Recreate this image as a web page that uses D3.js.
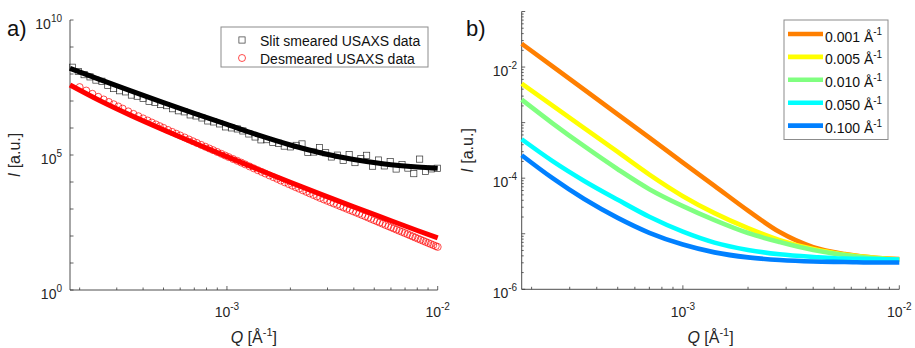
<!DOCTYPE html>
<html><head><meta charset="utf-8">
<script src="https://cdn.jsdelivr.net/npm/d3@7"></script>
<style>
html,body{margin:0;padding:0;background:#fff;}
svg{display:block;font-family:"Liberation Sans",Arial,Helvetica,sans-serif;}
</style></head><body>
<svg id="chart" width="915" height="348"></svg>
<script>
// ---------- data ----------
// Q grid (1/Å) on which the model curves are tabulated
const fitQ = [1.8e-4, 2.5e-4, 3.5e-4, 5e-4, 7e-4, 1e-3, 1.4e-3, 2e-3, 2.8e-3, 4e-3, 5.6e-3, 8e-3, 1e-2];

// panel a) fitted curves
const smearedFit   = [1.63e8, 6.21e7, 2.37e7, 8.73e6, 3.48e6, 1.35e6, 5.51e5, 2.34e5, 1.19e5, 6.81e4, 4.65e4, 3.60e4, 3.21e4];
const desmearedFit = [3.92e7, 1.02e7, 2.93e6, 8.55e5, 2.79e5, 8.69e4, 2.96e4, 9.73e3, 3.49e3, 1.20e3, 450, 160, 85];

// panel a) slit-smeared USAXS data
const smearedQ = [1.85e-4, 1.97e-4, 2.1e-4, 2.24e-4, 2.39e-4, 2.55e-4, 2.72e-4, 2.9e-4, 3.09e-4, 3.3e-4,
  3.52e-4, 3.75e-4, 4.0e-4, 4.27e-4, 4.55e-4, 4.85e-4, 5.17e-4, 5.52e-4, 5.88e-4, 6.27e-4,
  6.69e-4, 7.13e-4, 7.61e-4, 8.11e-4, 8.65e-4, 9.23e-4, 9.84e-4, 1.05e-3, 1.12e-3, 1.19e-3,
  1.27e-3, 1.36e-3, 1.45e-3, 1.54e-3, 1.65e-3, 1.76e-3, 1.87e-3, 2.0e-3, 2.13e-3, 2.27e-3,
  2.42e-3, 2.58e-3, 2.75e-3, 2.94e-3, 3.13e-3, 3.34e-3, 3.56e-3, 3.8e-3, 4.05e-3, 4.32e-3,
  4.6e-3, 4.91e-3, 5.24e-3, 5.58e-3, 5.95e-3, 6.35e-3, 6.77e-3, 7.22e-3, 7.7e-3, 8.21e-3,
  8.75e-3, 9.33e-3, 9.95e-3];
const smearedI = [1.78e8, 1.24e8, 9.45e7, 7.83e7, 5.96e7, 5.39e7, 3.78e7, 2.89e7, 2.40e7, 2.18e7,
  1.66e7, 1.51e7, 1.26e7, 9.70e6, 8.83e6, 7.38e6, 6.73e6, 5.18e6, 4.35e6, 3.97e6,
  3.06e6, 2.80e6, 2.36e6, 1.83e6, 1.68e6, 1.42e6, 1.10e6, 1.01e6, 9.24e5, 7.79e5,
  6.03e5, 4.66e5, 3.64e5, 3.70e5, 2.91e5, 2.72e5, 2.14e5, 2.00e5, 2.27e5, 2.57e5,
  1.24e5, 1.29e5, 1.89e5, 1.21e5, 8.46e4, 9.88e4, 6.36e4, 1.04e5, 5.23e4, 7.44e4,
  9.72e4, 3.86e4, 6.51e4, 3.95e4, 5.76e4, 3.03e4, 4.43e4, 3.28e4, 2.04e4, 7.04e4,
  2.45e4, 3.06e4, 3.23e4];

// panel a) desmeared USAXS data
const desmearedQ = [2.0e-4, 2.15e-4, 2.3e-4, 2.45e-4, 2.6e-4, 2.75e-4, 2.9e-4, 3.05e-4, 3.2e-4,
  3.4e-4, 3.6e-4, 3.8e-4, 4.0e-4, 4.2e-4, 4.4e-4, 4.6e-4, 4.8e-4, 5.0e-4, 5.25e-4, 5.5e-4, 5.75e-4, 6.0e-4,
  6.3e-4, 6.6e-4, 6.9e-4, 7.2e-4, 7.55e-4, 7.9e-4, 8.25e-4, 8.6e-4, 9.0e-4, 9.4e-4, 9.8e-4, 1.02e-3, 1.07e-3, 1.12e-3, 1.17e-3, 1.22e-3,
  1.28e-3, 1.34e-3, 1.40e-3, 1.46e-3, 1.52e-3, 1.59e-3, 1.66e-3, 1.73e-3, 1.80e-3, 1.88e-3, 1.96e-3, 2.04e-3, 2.12e-3, 2.20e-3, 2.29e-3, 2.38e-3, 2.47e-3,
  2.57e-3, 2.67e-3, 2.77e-3, 2.88e-3, 2.99e-3, 3.10e-3, 3.21e-3, 3.33e-3, 3.45e-3, 3.57e-3, 3.70e-3, 3.83e-3, 3.96e-3, 4.10e-3, 4.24e-3, 4.38e-3, 4.53e-3, 4.68e-3, 4.83e-3, 4.99e-3,
  5.15e-3, 5.31e-3, 5.48e-3, 5.65e-3, 5.83e-3, 6.01e-3, 6.19e-3, 6.38e-3, 6.57e-3, 6.77e-3, 6.97e-3, 7.18e-3, 7.39e-3, 7.61e-3, 7.83e-3, 8.06e-3, 8.29e-3, 8.53e-3, 8.77e-3, 9.02e-3, 9.27e-3, 9.53e-3, 9.79e-3, 1.0e-2];
const desmearedI = [3.28e7, 2.44e7, 1.85e7, 1.43e7, 1.14e7, 9.23e6, 7.58e6, 6.29e6, 5.23e6,
  4.13e6, 3.33e6, 2.74e6, 2.27e6, 1.90e6, 1.60e6, 1.36e6, 1.17e6, 1.01e6, 8.47e5, 7.18e5, 6.14e5, 5.29e5,
  4.46e5, 3.78e5, 3.23e5, 2.79e5, 2.37e5, 2.02e5, 1.74e5, 1.51e5, 1.29e5, 1.11e5, 9.58e4, 8.35e4, 7.09e4, 6.08e4, 5.22e4, 4.49e4,
  3.78e4, 3.21e4, 2.74e4, 2.37e4, 2.06e4, 1.75e4, 1.51e4, 1.31e4, 1.13e4, 9.73e3, 8.41e3, 7.32e3, 6.42e3, 5.65e3, 4.92e3, 4.31e3, 3.79e3,
  3.31e3, 2.90e3, 2.56e3, 2.26e3, 2.01e3, 1.79e3, 1.60e3, 1.43e3, 1.27e3, 1.14e3, 1.02e3, 914, 822, 737, 664, 597, 534, 479, 431, 387,
  349, 315, 284, 256, 231, 209, 190, 172, 156, 142, 129, 117, 106, 96.2, 87.6, 79.6, 72.6, 66.2, 60.4, 55.1, 50.4, 46.1, 42.2, 39.4];

// panel b) smeared model intensity for several slit lengths
const slitLabels = ["0.001", "0.005", "0.010", "0.050", "0.100"];
const slitColors = ["#ff7f00", "#ffff00", "#80ff80", "#00ffff", "#0080ff"];
const slit0001 = [2.63e-2, 1.03e-2, 3.93e-3, 1.41e-3, 5.35e-4, 1.91e-4, 7.29e-5, 2.61e-5, 1.07e-5, 5.75e-6, 4.31e-6, 3.65e-6, 3.50e-6];
const slit0005 = [5.04e-3, 2.03e-3, 7.98e-4, 2.96e-4, 1.16e-4, 4.75e-5, 2.35e-5, 1.26e-5, 7.69e-6, 5.30e-6, 4.22e-6, 3.65e-6, 3.43e-6];
const slit0010 = [2.59e-3, 9.72e-4, 3.76e-4, 1.45e-4, 6.34e-5, 3.14e-5, 1.76e-5, 1.03e-5, 7.08e-6, 5.08e-6, 4.13e-6, 3.57e-6, 3.37e-6];
const slit0050 = [5.02e-4, 2.03e-4, 8.93e-5, 4.09e-5, 2.02e-5, 1.09e-5, 6.93e-6, 5.12e-6, 4.26e-6, 3.82e-6, 3.57e-6, 3.50e-6, 3.43e-6];
const slit0100 = [2.59e-4, 1.00e-4, 4.21e-5, 1.93e-5, 1.04e-5, 6.39e-6, 4.62e-6, 3.75e-6, 3.36e-6, 3.16e-6, 3.10e-6, 3.03e-6, 3.03e-6];

// labelled ticks: [value, exponent text]
const qTickLabels = [[1e-3, "-3"], [1e-2, "-2"]];
const leftYTickLabels = [[1e0, "0"], [1e5, "5"], [1e10, "10"]];
const rightYTickLabels = [[1e-6, "-6"], [1e-4, "-4"], [1e-2, "-2"]];

// ---------- drawing ----------
const svg = d3.select("#chart");
const AX = "#3a3a3a";

const xL = d3.scaleLog().domain([1.8e-4, 1e-2]).range([70, 437.7]);
const yL = d3.scaleLog().domain([1, 1e10]).range([290, 20]);
const xR = d3.scaleLog().domain([1.8e-4, 1e-2]).range([521.7, 899.3]);
const yR = d3.scaleLog().domain([1e-6, 1e-1]).range([289.3, 11.5]);

function powText(sel, exp, expSize) {
  sel.append("tspan").text("10");
  sel.append("tspan").attr("font-size", expSize).attr("dy", -6.5).text(exp);
}

function drawAxes(x, y, yLabels, yMinor) {
  const g = svg.append("g");
  const [x0, x1] = x.range();
  const [yb, yt] = y.range();
  g.append("path")
    .attr("d", `M${x0},${yt}V${yb}H${x1}`)
    .attr("fill", "none").attr("stroke", AX).attr("stroke-width", 0.9);

  // x ticks (pointing inward)
  const majorX = new Set(qTickLabels.map(d => d[0]));
  x.ticks().forEach(v => {
    const px = x(v), len = majorX.has(v) ? 4 : 2.5;
    g.append("line").attr("x1", px).attr("x2", px).attr("y1", yb).attr("y2", yb - len)
      .attr("stroke", AX).attr("stroke-width", 0.8);
  });
  qTickLabels.forEach(([v, e]) => {
    const t = g.append("text").attr("x", x(v)).attr("y", 316.5)
      .attr("text-anchor", "middle").attr("font-size", 14).attr("fill", "#262626");
    powText(t, e, 10);
  });

  // y ticks
  y.ticks().forEach(v => {
    const lg = Math.log10(v);
    const isMajor = Math.abs(lg - Math.round(lg)) < 1e-9;
    if (!isMajor && !yMinor) return;
    const py = y(v), len = isMajor ? 3.5 : 2;
    g.append("line").attr("x1", x0).attr("x2", x0 + len).attr("y1", py).attr("y2", py)
      .attr("stroke", AX).attr("stroke-width", 0.8);
  });
  yLabels.forEach(([v, e]) => {
    const t = g.append("text").attr("x", x0 - (yMinor ? 4.5 : 8)).attr("y", y(v) + 8.5)
      .attr("text-anchor", "end").attr("font-size", 14).attr("fill", "#262626");
    powText(t, e, 10);
  });

  // axis titles
  const xt = g.append("text").attr("x", (x0 + x1) / 2).attr("y", 343)
    .attr("text-anchor", "middle").attr("font-size", 16).attr("fill", "#262626");
  xt.append("tspan").attr("font-style", "italic").text("Q");
  xt.append("tspan").text(" [Å");
  xt.append("tspan").attr("font-size", 11).attr("dy", -7).text("-1");
  xt.append("tspan").attr("dy", 7).text("]");

  const cx = x0 - (yMinor ? 49 : 50), cy = (yb + yt) / 2;
  const yt2 = g.append("text").attr("transform", `translate(${cx},${cy}) rotate(-90)`)
    .attr("text-anchor", "middle").attr("font-size", 16).attr("fill", "#262626");
  yt2.append("tspan").attr("font-style", "italic").text("I");
  yt2.append("tspan").text(" [a.u.]");
}

drawAxes(xL, yL, leftYTickLabels, false);
drawAxes(xR, yR, rightYTickLabels, true);

// panel letters
svg.append("text").attr("x", 7).attr("y", 36).attr("font-size", 22).attr("fill", "#111").text("a)");
svg.append("text").attr("x", 466).attr("y", 36).attr("font-size", 22).attr("fill", "#111").text("b)");

// ---- panel a) ----
const gA = svg.append("g");
const sq = 6.2;
gA.selectAll("rect.sm").data(smearedQ).join("rect").attr("class", "sm")
  .attr("x", (q, i) => xL(q) - sq / 2).attr("y", (q, i) => yL(smearedI[i]) - sq / 2)
  .attr("width", sq).attr("height", sq)
  .attr("fill", "none").attr("stroke", "#333").attr("stroke-width", 0.7);

gA.selectAll("circle.dm").data(desmearedQ).join("circle").attr("class", "dm")
  .attr("cx", q => xL(q)).attr("cy", (q, i) => yL(desmearedI[i])).attr("r", 3.5)
  .attr("fill", "none").attr("stroke", "#ff0000").attr("stroke-width", 0.7);

const lineA = vals => d3.line().curve(d3.curveMonotoneX)
  .x((q, i) => xL(q)).y((q, i) => yL(vals[i]))(fitQ);
gA.append("path").attr("d", lineA(desmearedFit)).attr("fill", "none")
  .attr("stroke", "#ff0000").attr("stroke-width", 5);
gA.append("path").attr("d", lineA(smearedFit)).attr("fill", "none")
  .attr("stroke", "#000").attr("stroke-width", 5);

// legend a)
const legA = svg.append("g");
legA.append("rect").attr("x", 221).attr("y", 27).attr("width", 207).attr("height", 40)
  .attr("fill", "#fff").attr("stroke", "#8c8c8c").attr("stroke-width", 1);
legA.append("rect").attr("x", 242 - sq / 2).attr("y", 40 - sq / 2).attr("width", sq).attr("height", sq)
  .attr("fill", "none").attr("stroke", "#333").attr("stroke-width", 0.7);
legA.append("circle").attr("cx", 242).attr("cy", 58).attr("r", 3.5)
  .attr("fill", "none").attr("stroke", "#ff0000").attr("stroke-width", 0.7);
legA.append("text").attr("x", 260).attr("y", 45.5).attr("font-size", 14).attr("fill", "#111")
  .text("Slit smeared USAXS data");
legA.append("text").attr("x", 260).attr("y", 64).attr("font-size", 14).attr("fill", "#111")
  .text("Desmeared USAXS data");

// ---- panel b) ----
const gB = svg.append("g");
const slitSeries = [slit0001, slit0005, slit0010, slit0050, slit0100];
const lineB = vals => d3.line().curve(d3.curveMonotoneX)
  .x((q, i) => xR(q)).y((q, i) => yR(vals[i]))(fitQ);
slitSeries.forEach((vals, k) => {
  gB.append("path").attr("d", lineB(vals)).attr("fill", "none")
    .attr("stroke", slitColors[k]).attr("stroke-width", 4.6).attr("stroke-linejoin", "round");
});

// legend b)
const legB = svg.append("g");
legB.append("rect").attr("x", 784).attr("y", 20).attr("width", 104).attr("height", 119.5)
  .attr("fill", "#fff").attr("stroke", "#8c8c8c").attr("stroke-width", 1);
slitLabels.forEach((lab, k) => {
  const ly = 34 + k * 22.9;
  legB.append("line").attr("x1", 788).attr("x2", 823).attr("y1", ly).attr("y2", ly)
    .attr("stroke", slitColors[k]).attr("stroke-width", 4.6);
  const t = legB.append("text").attr("x", 825).attr("y", ly + 7.5).attr("font-size", 14).attr("fill", "#111");
  t.append("tspan").text(lab + " Å");
  t.append("tspan").attr("font-size", 10).attr("dy", -6.5).text("-1");
});
</script>
</body></html>
